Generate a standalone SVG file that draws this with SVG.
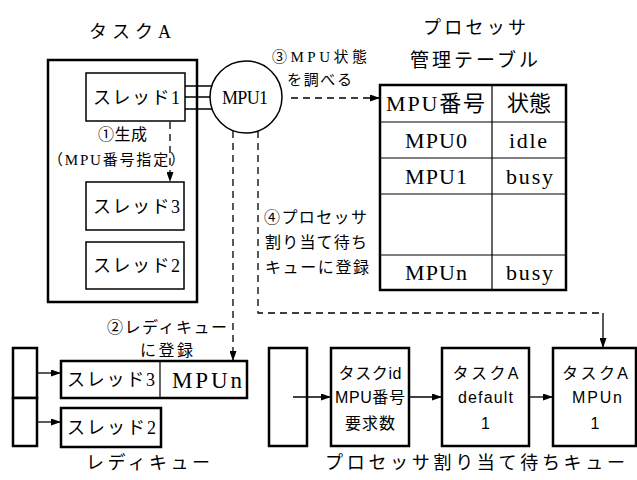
<svg xmlns="http://www.w3.org/2000/svg" width="637" height="480" viewBox="0 0 637 480">
<defs>
<marker id="ah" viewBox="0 0 10 7" refX="10" refY="3.5" markerWidth="10" markerHeight="7" markerUnits="userSpaceOnUse" orient="auto"><path d="M0,0 L10,3.5 L0,7 z" fill="#000"/></marker>
</defs>
<style>
.thick{fill:#fff;stroke:#000;stroke-width:2.5}
.thin{fill:#fff;stroke:#000;stroke-width:1.5}
.ln{stroke:#000;stroke-width:1.3;fill:none}
.tl{stroke:#000;stroke-width:1.2;fill:none}
.dash{stroke:#000;stroke-width:1.3;fill:none;stroke-dasharray:7 5}
.m{font-family:"Liberation Serif","Noto Sans CJK JP",serif;fill:#000}
.g{font-family:"Liberation Sans","Noto Sans CJK JP",sans-serif;fill:#000;font-size:16px;text-anchor:middle}
</style>
<rect width="637" height="480" fill="#fff"/>

<g id="taskA">
<text class="m" x="89" y="38" font-size="18" textLength="82" lengthAdjust="spacing">タスクA</text>
<rect class="thick" x="48" y="60" width="149" height="242"/>
</g>
<g id="thread1">
<rect class="thin" x="86" y="73" width="99" height="48"/>
<text class="m" x="93" y="104" font-size="18" textLength="87" lengthAdjust="spacing">スレッド1</text>
</g>
<g id="thread3">
<rect class="thin" x="86" y="182" width="98" height="48"/>
<text class="m" x="93" y="213" font-size="18" textLength="87" lengthAdjust="spacing">スレッド3</text>
</g>
<g id="thread2">
<rect class="thin" x="86" y="242" width="98" height="47"/>
<text class="m" x="93" y="272" font-size="18" textLength="87" lengthAdjust="spacing">スレッド2</text>
</g>
<g id="mpu1">
<circle cx="246" cy="97" r="36" fill="#fff" stroke="#000" stroke-width="1.5"/>
<text class="m" x="222" y="104" font-size="18" textLength="46" lengthAdjust="spacing">MPU1</text>
</g>

<g id="table">
<text class="m" x="423" y="34" font-size="18" textLength="103" lengthAdjust="spacing">プロセッサ</text>
<text class="m" x="410" y="67" font-size="19" textLength="128" lengthAdjust="spacing">管理テーブル</text>
<rect x="380" y="85" width="186" height="205" fill="#fff" stroke="none"/>
<path class="tl" d="M380,122H566M380,158H566M380,194H566M380,255H566M492,85V290"/>
<rect x="380" y="85" width="186" height="205" fill="none" stroke="#000" stroke-width="2.5"/>
<text class="m" x="386" y="111" font-size="22" textLength="99" lengthAdjust="spacing">MPU番号</text>
<text class="m" x="507" y="111" font-size="22" textLength="44" lengthAdjust="spacing">状態</text>
<text class="m" x="405" y="148" font-size="22" textLength="62" lengthAdjust="spacing">MPU0</text>
<text class="m" x="509" y="148" font-size="22" textLength="38" lengthAdjust="spacing">idle</text>
<text class="m" x="405" y="184" font-size="22" textLength="62" lengthAdjust="spacing">MPU1</text>
<text class="m" x="506" y="184" font-size="22" textLength="47" lengthAdjust="spacing">busy</text>
<text class="m" x="405" y="280" font-size="22" textLength="62" lengthAdjust="spacing">MPUn</text>
<text class="m" x="506" y="280" font-size="22" textLength="47" lengthAdjust="spacing">busy</text>
</g>

<g id="readyQueue">
<rect class="thick" x="13" y="348" width="24" height="50"/>
<rect class="thick" x="13" y="398" width="24" height="48"/>
<rect class="thick" x="61" y="361" width="186" height="37"/>
<line class="tl" x1="160" y1="361" x2="160" y2="398"/>
<text class="m" x="67" y="386" font-size="18" textLength="88" lengthAdjust="spacing">スレッド3</text>
<text class="m" x="172" y="388" font-size="23" textLength="70" lengthAdjust="spacing">MPUn</text>
<rect class="thick" x="61" y="408" width="100" height="39"/>
<text class="m" x="67" y="434" font-size="18" textLength="89" lengthAdjust="spacing">スレッド2</text>
<text class="m" x="86" y="469" font-size="18" textLength="124" lengthAdjust="spacing">レディキュー</text>
</g>

<g id="waitQueue">
<rect class="thick" x="269" y="348" width="38" height="98"/>
<text class="m" x="325" y="469" font-size="18" textLength="300" lengthAdjust="spacing">プロセッサ割り当て待ちキュー</text>
</g>
<g id="wq1">
<rect class="thick" x="331" y="348" width="78" height="98"/>
<text class="g" x="370" y="379" textLength="63" lengthAdjust="spacing">タスクid</text>
<text class="g" x="370" y="403" textLength="70" lengthAdjust="spacing">MPU番号</text>
<text class="g" x="370" y="429" textLength="50" lengthAdjust="spacing">要求数</text>
</g>
<g id="wq2">
<rect class="thick" x="442" y="348" width="87" height="98"/>
<text class="g" x="485.5" y="379" textLength="66" lengthAdjust="spacing">タスクA</text>
<text class="g" x="485.5" y="403" textLength="55" lengthAdjust="spacing">default</text>
<text class="g" x="485.5" y="429">1</text>
</g>
<g id="wq3">
<rect class="thick" x="553" y="348" width="83" height="98"/>
<text class="g" x="595" y="379" textLength="66" lengthAdjust="spacing">タスクA</text>
<text class="g" x="597" y="403" textLength="50" lengthAdjust="spacing">MPUn</text>
<text class="g" x="595" y="429">1</text>
</g>

<g id="labels">
<text class="m" x="272" y="62" font-size="15" textLength="95" lengthAdjust="spacing">③MPU状態</text>
<text class="m" x="287" y="85" font-size="15" textLength="65" lengthAdjust="spacing">を調べる</text>
<text class="m" x="98" y="140" font-size="16" textLength="49" lengthAdjust="spacing">①生成</text>
<text class="m" x="48" y="165" font-size="15" textLength="137" lengthAdjust="spacing">（MPU番号指定）</text>
<text class="m" x="107" y="333" font-size="16" textLength="120" lengthAdjust="spacing">②レディキュー</text>
<text class="m" x="140" y="356" font-size="16" textLength="53" lengthAdjust="spacing">に登録</text>
<text class="m" x="264" y="223" font-size="16" textLength="103" lengthAdjust="spacing">④プロセッサ</text>
<text class="m" x="265" y="248" font-size="16" textLength="102" lengthAdjust="spacing">割り当て待ち</text>
<text class="m" x="265" y="273" font-size="16" textLength="104" lengthAdjust="spacing">キューに登録</text>
</g>

<g id="connectors">
<path class="ln" d="M185,86H212M185,97H210M185,109H212"/>
<line class="dash" x1="170" y1="122" x2="170" y2="182" marker-end="url(#ah)"/>
<line class="dash" x1="291" y1="98" x2="380" y2="98" marker-end="url(#ah)"/>
<line class="dash" x1="233" y1="131" x2="233" y2="361" marker-end="url(#ah)"/>
<path class="dash" d="M258,131V313H603"/>
<line class="ln" x1="603" y1="313" x2="603" y2="348" marker-end="url(#ah)"/>
<line class="ln" x1="37" y1="373" x2="61" y2="373" marker-end="url(#ah)"/>
<line class="ln" x1="37" y1="422" x2="61" y2="422" marker-end="url(#ah)"/>
<line class="ln" x1="293" y1="397" x2="331" y2="397" marker-end="url(#ah)"/>
<line class="ln" x1="409" y1="397" x2="442" y2="397" marker-end="url(#ah)"/>
<line class="ln" x1="529" y1="397" x2="553" y2="397" marker-end="url(#ah)"/>
</g>
</svg>
